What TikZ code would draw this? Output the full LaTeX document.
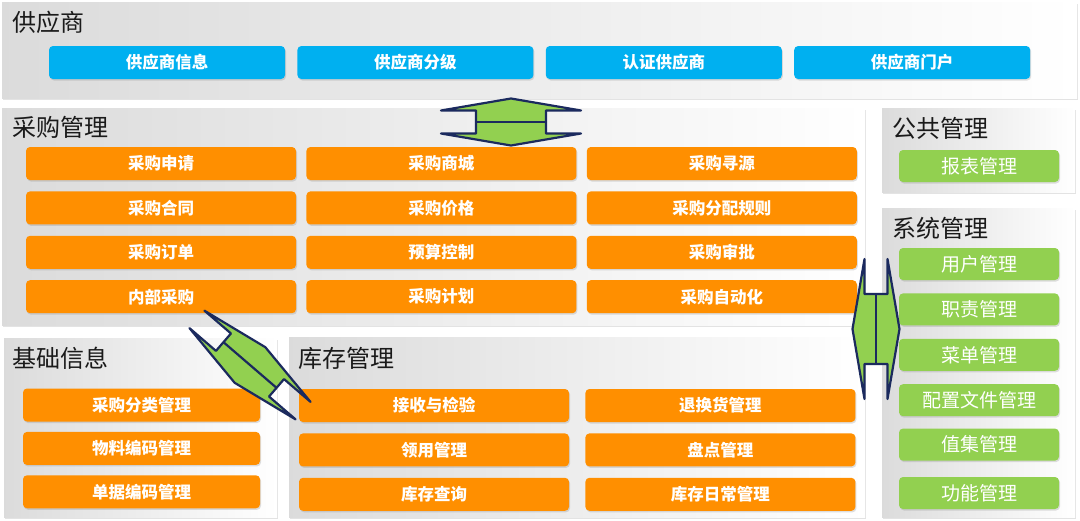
\documentclass[tikz,border=0pt]{standalone}
\usepackage{fontspec}
\setmainfont{Noto Sans CJK SC}
\usepackage{tikz}
\usetikzlibrary{shapes, calc, positioning, shadows}

\definecolor{supblue}{HTML}{00B0F0}
\definecolor{purorange}{HTML}{FF8F00}
\definecolor{mgmtgreen}{HTML}{92D050}
\definecolor{arrownavy}{HTML}{1B2A5E}
\definecolor{titleblack}{HTML}{1A1A1A}

\begin{document}
\begin{tikzpicture}[
    x=1pt, y=-1pt,
    panel/.style={rectangle, anchor=north west, inner sep=0pt, outer sep=0pt, left color=black!14, right color=white, drop shadow={shadow xshift=1pt, shadow yshift=-2pt, opacity=0.22}},
    title/.style={anchor=west, inner sep=0pt, font=\fontsize{24}{26}\selectfont, text=titleblack},
    modbox/.style={rectangle, rounded corners=4pt, minimum height=33pt, inner sep=0pt, text=white, drop shadow={shadow xshift=1pt, shadow yshift=-1.5pt, opacity=0.25}},
    bluebox/.style={modbox, fill=supblue, minimum width=236pt, font=\bfseries\fontsize{16.5}{18}\selectfont},
    orangebox/.style={modbox, fill=purorange, minimum width=270pt, font=\bfseries\fontsize{16.5}{18}\selectfont},
    basebox/.style={orangebox, minimum width=237pt},
    greenbox/.style={modbox, fill=mgmtgreen, minimum width=160pt, minimum height=32pt, font=\fontsize{19}{21}\selectfont},
    arrowline/.style={draw=arrownavy, line width=2.2pt, line join=round},
    pics/dblarrow/.style={code={
        \draw[arrowline, fill=mgmtgreen] (-70,11.5) -- (0,23.5) -- (70,11.5) -- (35,11.5) -- (35,-11.5) -- (70,-11.5)
            -- (0,-23.5) -- (-70,-11.5) -- (-35,-11.5) -- (-35,11.5) -- cycle;
        \draw[arrowline] (-35,0) -- (35,0);
    }}
]
    \useasboundingbox (0,0) rectangle (1080,520);
    \fill[white] (0,0) rectangle (1080,520);

    % Panels
    \node[panel, minimum width=1075pt, minimum height=96pt] (supPanel) at (2,2) {};
    \node[panel, minimum width=863pt, minimum height=217pt] (purPanel) at (2,108) {};
    \node[panel, minimum width=193pt, minimum height=84pt] (pubPanel) at (882,108) {};
    \node[panel, minimum width=193pt, minimum height=309pt] (sysPanel) at (882,208) {};
    \node[panel, minimum width=273pt, minimum height=179pt] (basePanel) at (4,338) {};
    \node[panel, minimum width=576pt, minimum height=180pt] (invPanel) at (289,337) {};

    % Titles
    \node[title] (supTitle) at ($(supPanel.north west)+(10,20)$) {供应商};
    \node[title] (purTitle) at ($(purPanel.north west)+(10,19)$) {采购管理};
    \node[title] (pubTitle) at ($(pubPanel.north west)+(10,20)$) {公共管理};
    \node[title] (sysTitle) at ($(sysPanel.north west)+(10,20)$) {系统管理};
    \node[title] (baseTitle) at ($(basePanel.north west)+(8,20)$) {基础信息};
    \node[title] (invTitle) at ($(invPanel.north west)+(9,21)$) {库存管理};

    % 1. Supplier
    \node[bluebox] (supInfo) at (167,62.5) {供应商信息};
    \node[bluebox, right=12pt of supInfo] (supGrade) {供应商分级};
    \node[bluebox, right=12pt of supGrade] (supCert) {认证供应商};
    \node[bluebox, right=12pt of supCert] (supPortal) {供应商门户};

    % 2. Purchasing
    \node[orangebox] (purReq) at (161,163.5) {采购申请};
    \node[orangebox, right=10pt of purReq] (purMall) {采购商城};
    \node[orangebox, right=10pt of purMall] (purSource) {采购寻源};
    \node[orangebox, below=11pt of purReq] (purContract) {采购合同};
    \node[orangebox, right=10pt of purContract] (purPrice) {采购价格};
    \node[orangebox, right=10pt of purPrice] (purRule) {采购分配规则};
    \node[orangebox, below=11pt of purContract] (purOrder) {采购订单};
    \node[orangebox, right=10pt of purOrder] (purBudget) {预算控制};
    \node[orangebox, right=10pt of purBudget] (purApprove) {采购审批};
    \node[orangebox, below=11pt of purOrder] (purInternal) {内部采购};
    \node[orangebox, right=10pt of purInternal] (purPlan) {采购计划};
    \node[orangebox, right=10pt of purPlan] (purAuto) {采购自动化};

    % 3. Base data
    \node[basebox] (baseCat) at (141.5,405) {采购分类管理};
    \node[basebox, below=10pt of baseCat] (baseMat) {物料编码管理};
    \node[basebox, below=10pt of baseMat] (baseDoc) {单据编码管理};

    % 4. Inventory
    \node[orangebox] (invRecv) at (434,405.5) {接收与检验};
    \node[orangebox, right=16pt of invRecv] (invReturn) {退换货管理};
    \node[orangebox, below=11pt of invRecv] (invIssue) {领用管理};
    \node[orangebox, right=16pt of invIssue] (invCount) {盘点管理};
    \node[orangebox, below=11pt of invIssue] (invQuery) {库存查询};
    \node[orangebox, right=16pt of invQuery] (invDaily) {库存日常管理};

    % 5. Public and system
    \node[greenbox] (pubReport) at (979,166) {报表管理};
    \node[greenbox] (sysUser) at (979,264) {用户管理};
    \node[greenbox, below=13pt of sysUser] (sysDuty) {职责管理};
    \node[greenbox, below=13pt of sysDuty] (sysMenu) {菜单管理};
    \node[greenbox, below=13pt of sysMenu] (sysProfile) {配置文件管理};
    \node[greenbox, below=12pt of sysProfile] (sysValue) {值集管理};
    \node[greenbox, below=16pt of sysValue] (sysFunc) {功能管理};

    % Links between panels
    \coordinate (supPurLink) at (511,122);
    \coordinate (purSysLink) at (876,329);
    \coordinate (purBaseLink) at (250,365);
    \pic at (supPurLink) {dblarrow};
    \pic[rotate=90] at (purSysLink) {dblarrow};
    \pic[rotate=-40.7] at (purBaseLink) {dblarrow};
\end{tikzpicture}
\end{document}
